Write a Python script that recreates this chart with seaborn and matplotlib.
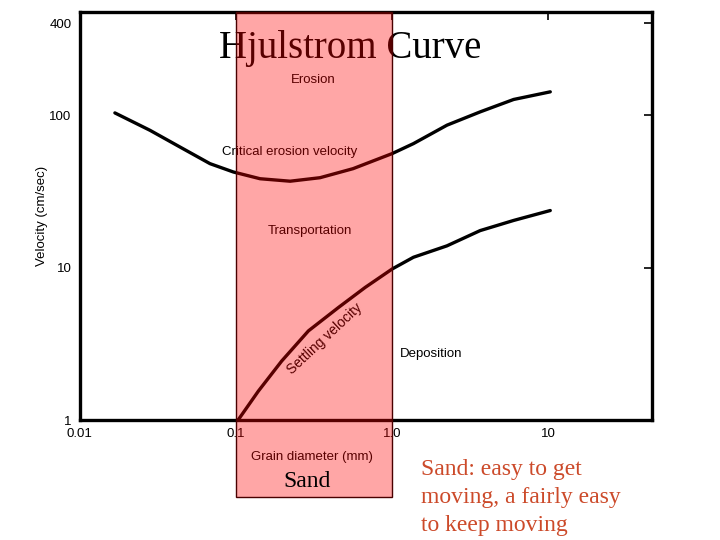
import seaborn as sns
import matplotlib.pyplot as plt
import matplotlib.transforms as mtransforms
from matplotlib.patches import Rectangle
import pandas as pd

# ---- data ----
erosion_d = [0.01675, 0.0281, 0.0438, 0.0681, 0.0962, 0.1426, 0.222, 0.345, 0.562,
             1.0, 1.369, 2.244, 3.66, 6.0, 10.3]
erosion_v = [103.5, 79.6, 61.8, 48.1, 42.4, 38.3, 36.9, 38.9, 44.6,
             56.0, 65.1, 86, 105.1, 126.8, 142.3]

settling_d = [0.103, 0.139, 0.196, 0.291, 0.453, 0.672, 1.0, 1.369, 2.244, 3.66, 6.0, 10.3]
settling_v = [1.0, 1.55, 2.44, 3.85, 5.48, 7.42, 9.8, 11.7, 13.9, 17.5, 20.4, 23.7]

x_ticks = [0.01, 0.1, 1.0, 10]
x_tick_labels = ["0.01", "0.1", "1.0", "10"]
y_ticks = [1, 10, 100, 400]
y_tick_labels = ["1", "10", "100", "400"]

sand_range = (0.1, 1.0)

df_e = pd.DataFrame({"d": erosion_d, "v": erosion_v})
df_s = pd.DataFrame({"d": settling_d, "v": settling_v})

sns.set_style("white")
plt.rcParams["font.family"] = ["Liberation Sans", "DejaVu Sans"]
plt.rcParams["text.color"] = "black"
plt.rcParams["axes.labelcolor"] = "black"
plt.rcParams["xtick.color"] = "black"
plt.rcParams["ytick.color"] = "black"

fig = plt.figure(figsize=(7.2, 5.4), dpi=100)
ax = fig.add_axes([0.111, 0.222, 0.795, 0.756])

sns.lineplot(x="d", y="v", data=df_e, ax=ax, color="black", lw=2.4)
sns.lineplot(x="d", y="v", data=df_s, ax=ax, color="black", lw=2.4)

ax.set_xscale("log")
ax.set_yscale("log")
ax.set_xlim(0.01, 46.4)
ax.set_ylim(1, 476)
ax.minorticks_off()
ax.set_xticks(x_ticks)
ax.set_xticklabels(x_tick_labels)
ax.set_yticks(y_ticks)
ax.set_yticklabels(y_tick_labels)
ax.tick_params(direction="in", length=6, width=1.2, labelsize=9.5, top=True, right=True, pad=6)
for s in ax.spines.values():
    s.set_linewidth(2.4)
    s.set_color("black")
ax.set_xlabel("Grain diameter (mm)", fontsize=9.5)
ax.xaxis.set_label_coords(0.406, -0.075)
ax.set_ylabel("Velocity (cm/sec)", fontsize=9.5, labelpad=1)

# region labels
ax.text(0.312, 170, "Erosion", fontsize=9.5, ha="center", va="center")
ax.text(0.219, 57, "Critical erosion velocity", fontsize=9.5, ha="center", va="center")
ax.text(0.298, 17.5, "Transportation", fontsize=9.5, ha="center", va="center")
ax.text(1.78, 2.72, "Deposition", fontsize=9.5, ha="center", va="center")
ax.text(0.372, 3.4, "Settling velocity", fontsize=10, ha="center", va="center", rotation=43)

# title and notes
fig.text(0.486, 0.91, "Hjulstrom Curve", family="Liberation Serif", fontsize=28,
         ha="center", va="center", zorder=3)
fig.text(0.426, 0.108, "Sand", family="Liberation Serif", fontsize=17,
         ha="center", va="center", zorder=12)
fig.text(0.585, 0.15, "Sand: easy to get\nmoving, a fairly easy\nto keep moving",
         family="Liberation Serif", fontsize=17, color="#cc4a2a",
         ha="left", va="top", linespacing=1.45)

# sand band over the chart
trans = mtransforms.blended_transform_factory(ax.transData, fig.transFigure)
band = Rectangle((sand_range[0], 0.0796), sand_range[1] - sand_range[0], 0.898,
                 transform=trans, facecolor="red", alpha=0.35, edgecolor="none",
                 clip_on=False, zorder=10)
edge = Rectangle((sand_range[0], 0.0796), sand_range[1] - sand_range[0], 0.898,
                 transform=trans, facecolor="none", edgecolor="#4a0000", lw=1,
                 clip_on=False, zorder=11)
fig.add_artist(band)
fig.add_artist(edge)

plt.savefig("out.png", dpi=100)
